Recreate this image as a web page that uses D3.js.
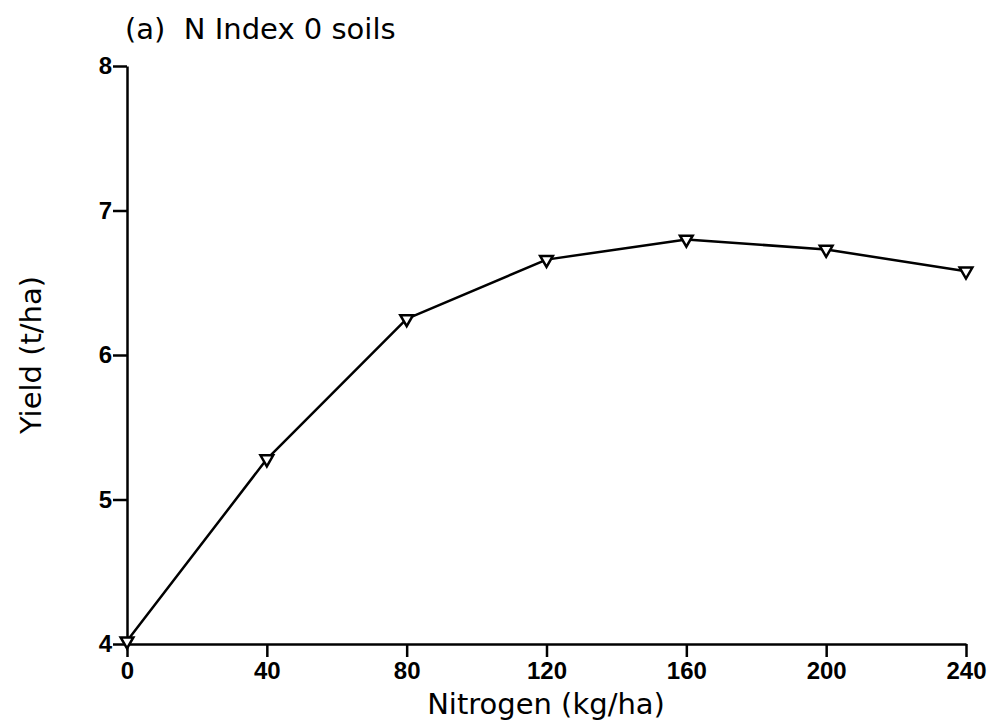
<!DOCTYPE html>
<html>
<head>
<meta charset="utf-8">
<script src="https://cdn.jsdelivr.net/npm/d3@7"></script>
<style>
  html, body { margin: 0; padding: 0; background: #fff; }
  svg { display: block; }
  .tick text { font-family: "Liberation Sans", Arial, sans-serif; font-weight: bold; font-size: 24px; fill: #000; }
  .lbl { font-family: "DejaVu Sans", "Liberation Sans", sans-serif; font-size: 29px; fill: #000; }
</style>
</head>
<body>
<svg id="chart" width="996" height="725"></svg>
<script>
// Nitrogen rate (kg/ha) and grain yield (t/ha), N Index 0 soils
const nitrogen = [0, 40, 80, 120, 160, 200, 240];
const yieldTha = [4.02, 5.28, 6.25, 6.66, 6.80, 6.73, 6.58];
const xTicks = [0, 40, 80, 120, 160, 200, 240];
const yTicks = [4, 5, 6, 7, 8];
const titleText = "(a)  N Index 0 soils";
const xTitle = "Nitrogen (kg/ha)";
const yTitle = "Yield (t/ha)";

const svg = d3.select("#chart");
const x = d3.scaleLinear().domain([0, 240]).range([127, 966]);
const y = d3.scaleLinear().domain([4, 8]).range([644, 66]);

// axes
const xAxis = svg.append("g")
  .attr("transform", `translate(0,${y(4)})`)
  .call(d3.axisBottom(x).tickValues(xTicks).tickFormat(d3.format("d"))
    .tickSize(13).tickPadding(5).tickSizeOuter(0));
const yAxis = svg.append("g")
  .attr("transform", `translate(${x(0)},0)`)
  .call(d3.axisLeft(y).tickValues(yTicks).tickFormat(d3.format("d"))
    .tickSize(14).tickPadding(1).tickSizeOuter(0));
[xAxis, yAxis].forEach(g => {
  g.select(".domain").attr("stroke", "#000").attr("stroke-width", 2.5);
  g.selectAll(".tick line").attr("stroke", "#000").attr("stroke-width", 2.5);
});

// yield response line
const line = d3.line().x((d, i) => x(nitrogen[i])).y(d => y(d));
svg.append("path")
  .datum(yieldTha)
  .attr("d", line)
  .attr("fill", "none")
  .attr("stroke", "#000")
  .attr("stroke-width", 2.5)
  .attr("stroke-linejoin", "round");

// open downward triangle markers
const tri = d3.symbol().type(d3.symbolTriangle).size(70);
svg.append("g").selectAll("path")
  .data(yieldTha)
  .join("path")
  .attr("d", tri)
  .attr("transform", (d, i) => `translate(${x(nitrogen[i])},${y(d)}) rotate(180)`)
  .attr("fill", "#fff")
  .attr("stroke", "#000")
  .attr("stroke-width", 2.5);

// titles
svg.append("text").attr("class", "lbl")
  .attr("x", 125).attr("y", 39)
  .attr("xml:space", "preserve")
  .text(titleText);
svg.append("text").attr("class", "lbl")
  .attr("x", 546).attr("y", 714)
  .attr("text-anchor", "middle")
  .text(xTitle);
svg.append("text").attr("class", "lbl")
  .attr("transform", "translate(41,355) rotate(-90)")
  .attr("text-anchor", "middle")
  .text(yTitle);
</script>
</body>
</html>
